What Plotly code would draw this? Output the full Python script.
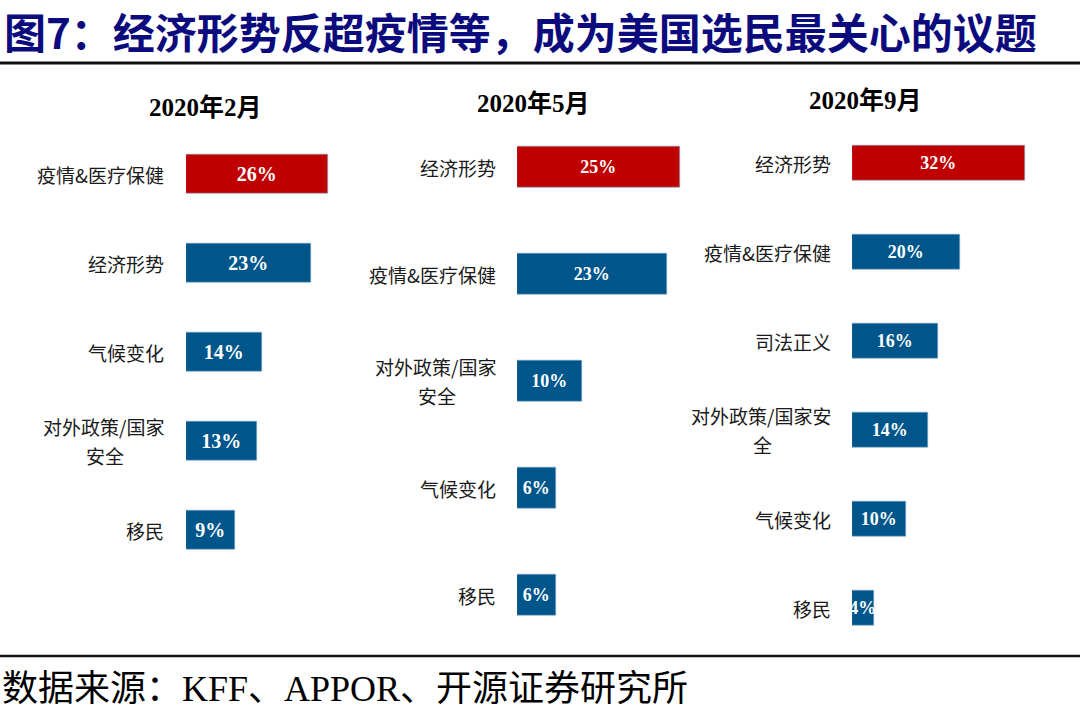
import plotly.graph_objects as go

# ---------------- data ----------------
periods = ["2020年2月", "2020年5月", "2020年9月"]

cats_feb = ["疫情&医疗保健", "经济形势", "气候变化", "对外政策/国家安全", "移民"]
labels_feb = ["疫情&医疗保健", "经济形势", "气候变化", "对外政策/国家<br>安全", "移民"]
vals_feb = [26, 23, 14, 13, 9]

cats_may = ["经济形势", "疫情&医疗保健", "对外政策/国家安全", "气候变化", "移民"]
labels_may = ["经济形势", "疫情&医疗保健", "对外政策/国家<br>安全", "气候变化", "移民"]
vals_may = [25, 23, 10, 6, 6]

cats_sep = ["经济形势", "疫情&医疗保健", "司法正义", "对外政策/国家安全", "气候变化", "移民"]
labels_sep = ["经济形势", "疫情&医疗保健", "司法正义", "对外政策/国家安<br>全", "气候变化", "移民"]
vals_sep = [32, 20, 16, 14, 10, 4]

title_text = "图7：经济形势反超疫情等，成为美国选民最关心的议题"
source_text = "数据来源：KFF、APPOR、开源证券研究所"

# ---------------- style ----------------
W, H = 1080, 712
RED = "#C00000"
BLUE = "#00568A"
SERIF = "Liberation Serif, Noto Sans CJK SC"
CJK = "Noto Sans CJK SC"
LAB_FS = 19


def px_x(v):
    return v / W


def px_y(v):
    return 1 - v / H


def est_width(s, fs):
    w = 0.0
    for ch in s:
        w += fs if ord(ch) > 0x2E80 else 0.4 * fs
    return w


panels = [
    dict(cats=cats_feb, labels=labels_feb, vals=vals_feb, x0=186, x1=340, ppu=5.45,
         top=129.5, bottom=574.5, bw=0.43, tsize=20, sub_x=205, sub_y=107, gap=20),
    dict(cats=cats_may, labels=labels_may, vals=vals_may, x0=517, x1=700, ppu=6.5,
         top=113.5, bottom=648.5, bw=0.39, tsize=18, sub_x=533, sub_y=103, gap=19),
    dict(cats=cats_sep, labels=labels_sep, vals=vals_sep, x0=852, x1=1060, ppu=5.4,
         top=118.5, bottom=652.5, bw=0.40, tsize=18, sub_x=865, sub_y=100, gap=19),
]

fig = go.Figure()
annotations = []
layout_axes = {}

for i, p in enumerate(panels):
    n = i + 1
    xa = "x" if n == 1 else f"x{n}"
    ya = "y" if n == 1 else f"y{n}"
    colors = [RED] + [BLUE] * (len(p["vals"]) - 1)
    fig.add_trace(go.Bar(
        x=p["vals"], y=p["cats"], orientation="h",
        xaxis=xa, yaxis=ya,
        marker=dict(color=colors, line=dict(color="#7FA6C6", width=0.6)),
        width=p["bw"],
        texttemplate="<b>%{x}%</b>",
        textposition="inside", insidetextanchor="middle",
        textangle=0, constraintext="none",
        insidetextfont=dict(family=SERIF, size=p["tsize"], color="white"),
        hoverinfo="skip", showlegend=False,
    ))
    xkey = "xaxis" if n == 1 else f"xaxis{n}"
    ykey = "yaxis" if n == 1 else f"yaxis{n}"
    layout_axes[xkey] = dict(
        domain=[px_x(p["x0"]), px_x(p["x1"])],
        range=[0, (p["x1"] - p["x0"]) / p["ppu"]],
        visible=False, anchor=ya,
    )
    layout_axes[ykey] = dict(
        domain=[px_y(p["bottom"]), px_y(p["top"])],
        type="category", categoryorder="array", categoryarray=p["cats"],
        range=[len(p["cats"]) - 0.5, -0.5],
        showticklabels=False, showgrid=False, zeroline=False, showline=False,
        ticks="", anchor=xa,
    )
    for c, lab in zip(p["cats"], p["labels"]):
        lines = lab.split("<br>")
        if len(lines) == 1:
            annotations.append(dict(
                x=0, y=c, xref=xa, yref=ya, text=lab, showarrow=False,
                xanchor="right", yanchor="middle", xshift=-p["gap"],
                font=dict(family=CJK, size=LAB_FS, color="#1a1a1a"),
            ))
        else:
            w1 = est_width(lines[0], LAB_FS)
            annotations.append(dict(
                x=0, y=c, xref=xa, yref=ya, text=lines[0], showarrow=False,
                xanchor="right", yanchor="middle", xshift=-p["gap"], yshift=14.5,
                font=dict(family=CJK, size=LAB_FS, color="#1a1a1a"),
            ))
            annotations.append(dict(
                x=0, y=c, xref=xa, yref=ya, text=lines[1], showarrow=False,
                xanchor="center", yanchor="middle",
                xshift=-(p["gap"] + w1 / 2), yshift=-14.5,
                font=dict(family=CJK, size=LAB_FS, color="#1a1a1a"),
            ))
    annotations.append(dict(
        x=px_x(p["sub_x"]), y=px_y(p["sub_y"]), xref="paper", yref="paper",
        text=f"<b>{periods[i]}</b>", showarrow=False,
        xanchor="center", yanchor="middle",
        font=dict(family=SERIF, size=25, color="black"),
    ))

annotations.append(dict(
    x=px_x(2), y=px_y(30), xref="paper", yref="paper",
    text=f"<b>{title_text}</b>", showarrow=False,
    xanchor="left", yanchor="middle",
    font=dict(family=CJK, size=42, color="#0B0B7E"),
))
annotations.append(dict(
    x=px_x(0), y=px_y(689), xref="paper", yref="paper",
    text=source_text, showarrow=False,
    xanchor="left", yanchor="middle",
    font=dict(family=SERIF, size=36, color="black"),
))

shapes = [
    dict(type="line", xref="paper", yref="paper", x0=0, x1=1,
         y0=px_y(63), y1=px_y(63), line=dict(color="#111111", width=3)),
    dict(type="line", xref="paper", yref="paper", x0=0, x1=1,
         y0=px_y(656), y1=px_y(656), line=dict(color="#111111", width=2.5)),
]

fig.update_layout(
    width=W, height=H,
    margin=dict(l=0, r=0, t=0, b=0),
    paper_bgcolor="white", plot_bgcolor="white",
    annotations=annotations, shapes=shapes,
    bargap=0,
    **layout_axes,
)

fig.write_html("out.html", config={"displayModeBar": False},
               post_script="document.body.style.margin='0px';")
